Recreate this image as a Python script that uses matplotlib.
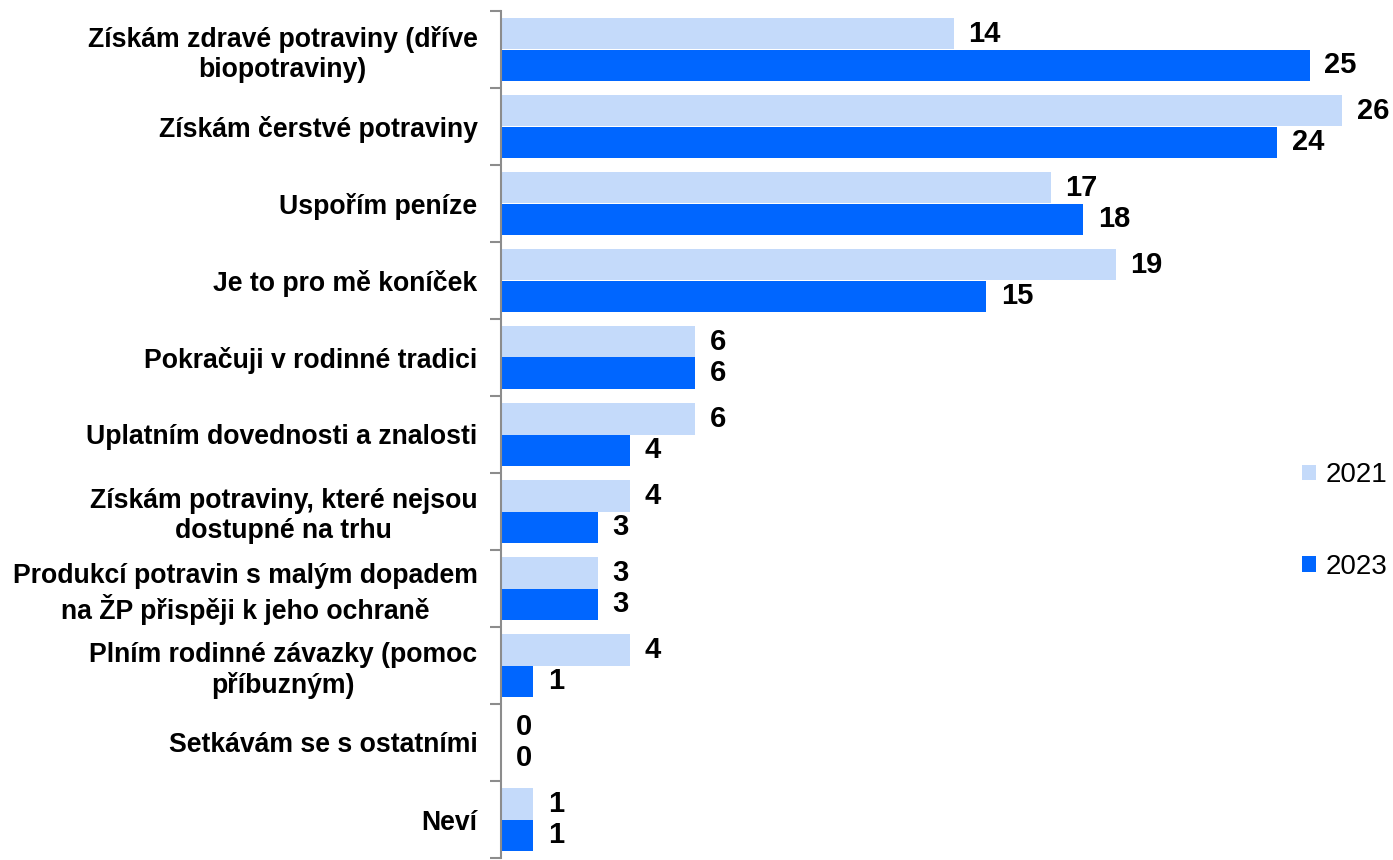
import matplotlib
matplotlib.use('Agg')
from matplotlib import pyplot as plt
import numpy as np

plt.rcParams.update({
    'font.family': ['Liberation Sans', 'DejaVu Sans'],
    'font.size': 15,
})

categories = [
    'Získám zdravé potraviny (dříve\nbiopotraviny)',
    'Získám čerstvé potraviny',
    'Uspořím peníze',
    'Je to pro mě koníček',
    'Pokračuji v rodinné tradici',
    'Uplatním dovednosti a znalosti',
    'Získám potraviny, které nejsou\ndostupné na trhu',
    'Produkcí potravin s malým dopadem\nna ŽP přispěji k jeho ochraně',
    'Plním rodinné závazky (pomoc\npříbuzným)',
    'Setkávám se s ostatními',
    'Neví',
]
values_2021 = [14, 26, 17, 19, 6, 6, 4, 3, 4, 0, 1]
values_2023 = [25, 24, 18, 15, 6, 4, 3, 3, 1, 0, 1]
series_labels = ['2021', '2023']
colors = ['#C4DAFA', '#0066FF']

W, H = 1393, 860
fig = plt.figure(figsize=(W / 100, H / 100), dpi=100)
ax_left, ax_top, ax_bottom = 501, 11, 858
ax_width = W - ax_left
ax = fig.add_axes([ax_left / W, 1 - ax_bottom / H, ax_width / W, (ax_bottom - ax_top) / H])

px_per_unit = 841 / 26
ax.set_xlim(0, ax_width / px_per_unit)
ax.set_ylim(len(categories) - 0.5, -0.5)

y = np.arange(len(categories))
h = 0.415
bars_a = ax.barh(y - h / 2, values_2021, height=h, color=colors[0], label=series_labels[0])
bars_b = ax.barh(y + h / 2, values_2023, height=h, color=colors[1], label=series_labels[1])

for bars, vals in ((bars_a, values_2021), (bars_b, values_2023)):
    for b, v in zip(bars, vals):
        ax.text(v + 0.45, b.get_y() + b.get_height() / 2, f'{v}',
                ha='left', va='center', fontsize=21, fontweight='bold')

# category labels centred on each group, ticks at group boundaries
ax.set_yticks(y)
ax.set_yticklabels(categories, fontweight='bold', fontsize=19.2, multialignment='center')
ax.tick_params(axis='y', which='major', length=0, pad=17)
ax.set_yticks(np.arange(-0.5, len(categories), 1), minor=True)
ax.tick_params(axis='y', which='minor', length=8, width=1.5, color='#8C8C8C')

ax.set_xticks([])
for s in ('top', 'right', 'bottom'):
    ax.spines[s].set_visible(False)
ax.spines['left'].set_color('#8C8C8C')
ax.spines['left'].set_linewidth(1.5)

fig.legend(loc='center left', bbox_to_anchor=(1291 / W, 1 - 521 / H), frameon=False,
           fontsize=20, labelspacing=2.35, handlelength=0.5, handleheight=0.5,
           handletextpad=0.33, borderaxespad=0)

fig.savefig('out.png', dpi=100)
